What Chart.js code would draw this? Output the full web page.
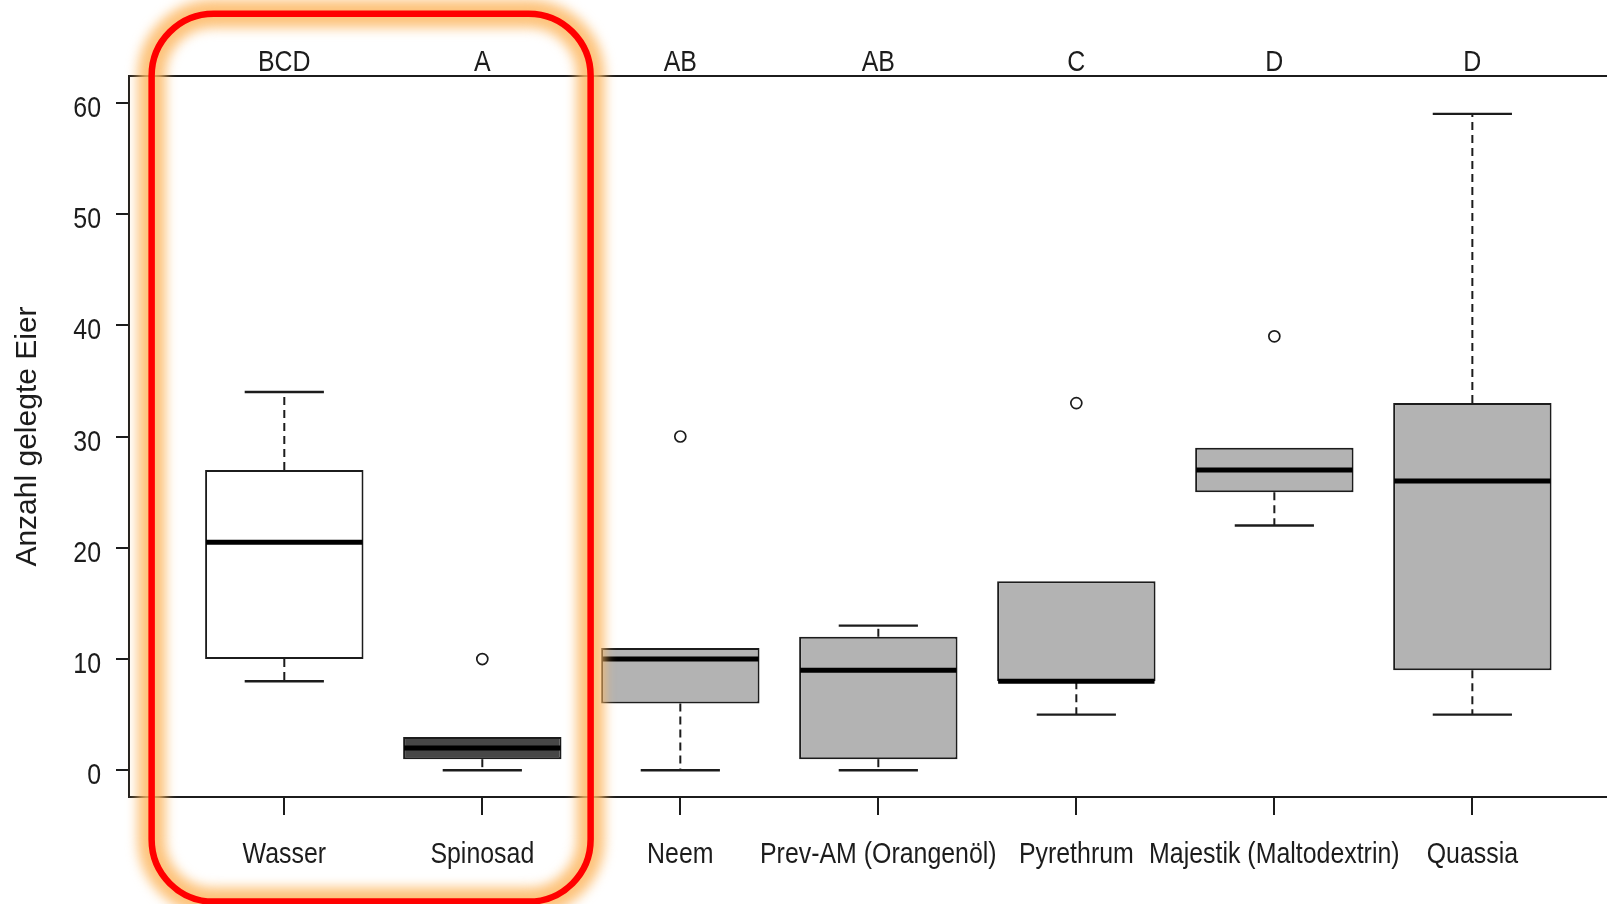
<!DOCTYPE html>
<html>
<head>
<meta charset="utf-8">
<title>Anzahl gelegte Eier</title>
<script src="https://cdn.jsdelivr.net/npm/chart.js@4.4.1/dist/chart.umd.min.js"></script>
<style>
  html, body { margin: 0; padding: 0; background: #ffffff; overflow: hidden; }
  #wrap { width: 1607px; height: 904px; position: relative; }
  canvas { display: block; }
</style>
</head>
<body>
<div id="wrap"><canvas id="chart" width="1607" height="904"></canvas></div>
<script>
// Treatments and their significance groups
const categories = ['Wasser', 'Spinosad', 'Neem', 'Prev-AM (Orangenöl)', 'Pyrethrum', 'Majestik (Maltodextrin)', 'Quassia'];
const groupLetters = ['BCD', 'A', 'AB', 'AB', 'C', 'D', 'D'];

// Five-number summaries per treatment (eggs laid)
const whiskerLow  = [8, 0, 0, 0, 5, 22, 5];
const quartile1   = [10, 1, 6, 1, 8, 25, 9];
const medians     = [20.5, 2, 10, 9, 8, 27, 26];
const quartile3   = [27, 3, 11, 12, 17, 29, 33];
const whiskerHigh = [34, 3, 11, 13, 17, 29, 59];
const outliers    = [[], [10], [30], [], [33], [39], []];

const yTicks = [0, 10, 20, 30, 40, 50, 60];
const yTitle = 'Anzahl gelegte Eier';

// Box fills
const boxFill = ['#ffffff', '#474747', '#b3b3b3', '#b3b3b3', '#b3b3b3', '#b3b3b3', '#b3b3b3'];

const positions = categories.map((_, i) => i + 1);
const INK = '#1c1c1c';
const SANS = '"Liberation Sans", Arial, sans-serif';
const NARROW_SCALE = 0.83;   // horizontal squeeze for a narrow Helvetica look

// Whiskers (dashed), staples and medians drawn on the chart's scales
const boxplotParts = {
  id: 'boxplotParts',
  beforeDatasetsDraw(chart) {
    const { ctx } = chart;
    const xs = chart.scales.x, ys = chart.scales.y;
    const bars = chart.getDatasetMeta(0).data;
    ctx.save();
    ctx.strokeStyle = INK;
    positions.forEach((p, i) => {
      const cx = xs.getPixelForValue(p);
      const half = bars[i] ? bars[i].width / 2 : 79;
      const staple = half / 2;
      const pairs = [[quartile3[i], whiskerHigh[i]], [quartile1[i], whiskerLow[i]]];
      pairs.forEach(([from, to]) => {
        if (from === to) return;
        ctx.lineWidth = 2;
        ctx.setLineDash([8, 5]);
        ctx.beginPath();
        ctx.moveTo(cx, ys.getPixelForValue(from));
        ctx.lineTo(cx, ys.getPixelForValue(to));
        ctx.stroke();
        ctx.setLineDash([]);
        ctx.lineWidth = 2.4;
        ctx.beginPath();
        ctx.moveTo(cx - staple, ys.getPixelForValue(to));
        ctx.lineTo(cx + staple, ys.getPixelForValue(to));
        ctx.stroke();
      });
    });
    ctx.restore();
  },
  afterDatasetsDraw(chart) {
    const { ctx } = chart;
    const xs = chart.scales.x, ys = chart.scales.y;
    const bars = chart.getDatasetMeta(0).data;
    ctx.save();
    ctx.strokeStyle = '#000000';
    ctx.lineWidth = 5;
    ctx.lineCap = 'butt';
    positions.forEach((p, i) => {
      const cx = xs.getPixelForValue(p);
      const half = bars[i].width / 2;
      const yy = ys.getPixelForValue(medians[i]);
      ctx.beginPath();
      ctx.moveTo(cx - half + 1, yy);
      ctx.lineTo(cx + half - 1, yy);
      ctx.stroke();
    });
    ctx.restore();
  }
};

// Axis labels, group letters and the y title in a condensed sans face
function narrowText(ctx, text, x, y, align) {
  ctx.save();
  ctx.translate(x, y);
  ctx.scale(NARROW_SCALE, 1);
  ctx.textAlign = align;
  ctx.fillText(text, 0, 0);
  ctx.restore();
}

const axisText = {
  id: 'axisText',
  afterDraw(chart) {
    const { ctx, chartArea } = chart;
    const xs = chart.scales.x, ys = chart.scales.y;
    ctx.save();
    ctx.fillStyle = INK;
    ctx.font = '30px ' + SANS;
    ctx.textBaseline = 'alphabetic';
    // y tick labels
    yTicks.forEach(v => {
      narrowText(ctx, String(v), chartArea.left - 28, ys.getPixelForValue(v) + 14, 'right');
    });
    // treatment names below, group letters above
    positions.forEach((p, i) => {
      const cx = xs.getPixelForValue(p);
      narrowText(ctx, categories[i], cx, chartArea.bottom + 66, 'center');
      narrowText(ctx, groupLetters[i], cx, chartArea.top - 5, 'center');
    });
    // y axis title
    ctx.translate(chartArea.left - 101, (chartArea.top + chartArea.bottom) / 2);
    ctx.rotate(-Math.PI / 2);
    ctx.textAlign = 'center';
    ctx.textBaseline = 'middle';
    ctx.fillText(yTitle, 0, 0);
    ctx.restore();
  }
};

// Rounded red frame with a soft orange glow around the first two treatments
const highlightFrame = {
  id: 'highlightFrame',
  afterDraw(chart, args, opts) {
    const { ctx } = chart;
    const xs = chart.scales.x, ys = chart.scales.y;
    const left = xs.getPixelForValue(opts.xFrom);
    const right = xs.getPixelForValue(opts.xTo);
    const top = ys.getPixelForValue(opts.yTop);
    const bottom = ys.getPixelForValue(opts.yBottom);
    ctx.save();
    ctx.beginPath();
    ctx.roundRect(left, top, right - left, bottom - top, opts.radius);
    ctx.filter = 'blur(6px)';
    ctx.strokeStyle = 'rgba(253, 185, 100, 0.85)';
    ctx.lineWidth = 28;
    ctx.stroke();
    ctx.filter = 'none';
    ctx.strokeStyle = '#ff0000';
    ctx.lineWidth = 6.5;
    ctx.stroke();
    ctx.restore();
  }
};

const outlierPoints = [];
outliers.forEach((vals, i) => vals.forEach(v => outlierPoints.push({ x: positions[i], y: v })));

const xMin = 0.2157, xMax = 7.68;

new Chart(document.getElementById('chart'), {
  type: 'bar',
  data: {
    datasets: [
      {
        type: 'bar',
        data: positions.map((x, i) => ({ x, y: [quartile1[i], quartile3[i]] })),
        backgroundColor: boxFill,
        borderColor: INK,
        borderWidth: 2,
        borderSkipped: false,
        barPercentage: 0.8,
        categoryPercentage: 1,
        xAxisID: 'x',
        yAxisID: 'y'
      },
      {
        type: 'scatter',
        data: outlierPoints,
        pointStyle: 'circle',
        pointRadius: 5.5,
        pointBorderWidth: 1.7,
        pointBorderColor: INK,
        pointBackgroundColor: 'rgba(255,255,255,0)',
        xAxisID: 'x',
        yAxisID: 'y'
      }
    ]
  },
  options: {
    responsive: false,
    animation: false,
    devicePixelRatio: 1,
    layout: { padding: 0, autoPadding: false },
    plugins: {
      legend: { display: false },
      tooltip: { enabled: false },
      highlightFrame: { xFrom: 0.33, xTo: 2.547, yTop: 68.0, yBottom: -11.8, radius: 62 }
    },
    scales: {
      x: {
        type: 'linear',
        position: 'bottom',
        min: xMin,
        max: xMax,
        offset: false,
        afterBuildTicks: s => { s.ticks = positions.map(v => ({ value: v })); },
        afterFit: s => { s.height = 107; },
        ticks: { display: false },
        grid: { offset: false, drawOnChartArea: false, tickLength: 18, color: INK, lineWidth: 2 },
        border: { color: INK, width: 2 }
      },
      xTop: {
        type: 'linear',
        position: 'top',
        min: xMin,
        max: xMax,
        offset: false,
        afterBuildTicks: s => { s.ticks = positions.map(v => ({ value: v })); },
        afterFit: s => { s.height = 76; },
        ticks: { display: false },
        grid: { offset: false, drawOnChartArea: false, drawTicks: false },
        border: { color: INK, width: 2 }
      },
      y: {
        type: 'linear',
        min: -2.4,
        max: 62.4,
        afterBuildTicks: s => { s.ticks = yTicks.map(v => ({ value: v })); },
        afterFit: s => { s.width = 129; },
        ticks: { display: false },
        grid: { drawOnChartArea: false, tickLength: 13, color: INK, lineWidth: 2 },
        border: { color: INK, width: 2 }
      }
    }
  },
  plugins: [boxplotParts, axisText, highlightFrame]
});
</script>
</body>
</html>
